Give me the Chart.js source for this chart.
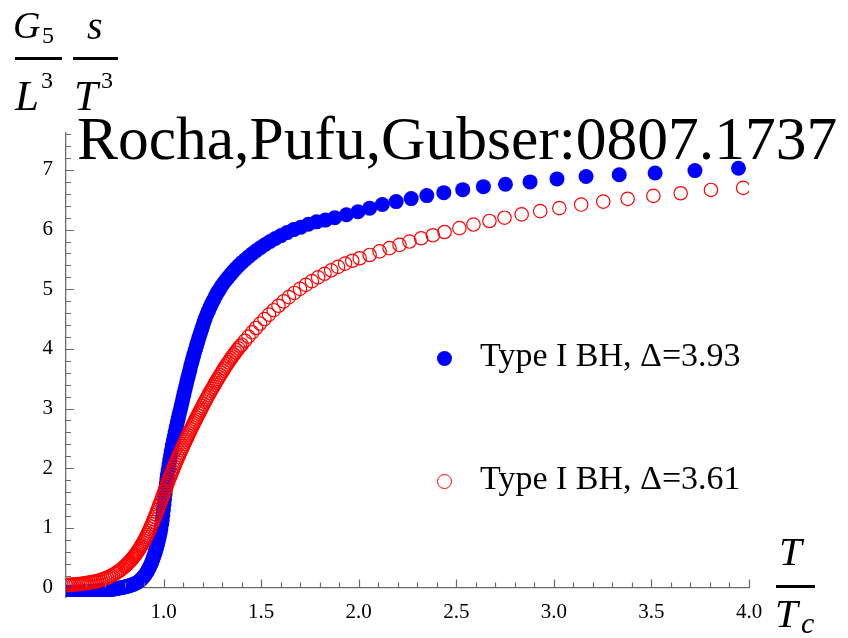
<!DOCTYPE html>
<html>
<head>
<meta charset="utf-8">
<script src="https://cdn.jsdelivr.net/npm/chart.js@4"></script>
<style>
  body { margin: 0; background: #fff; }
  #wrap { position: relative; width: 848px; height: 638px; overflow: hidden; font-family: "Liberation Serif", "Times New Roman", serif; }
  #wrap canvas { position: absolute; left: 0; top: 0; }
  .txt { position: absolute; line-height: 1; white-space: nowrap; color: #000; }
  .it { font-style: italic; }
  .bar { position: absolute; height: 3px; background: #000; }
  .dot { position: absolute; width: 15px; height: 15px; border-radius: 50%; box-sizing: border-box; }
</style>
</head>
<body>
<div id="wrap">
  <canvas id="grafico" width="848" height="638"></canvas>

  <!-- rótulo do eixo y: (G5 / L^3) (s / T^3) -->
  <div class="txt it" style="left:13px; top:6px; font-size:38px;">G</div>
  <div class="txt" style="left:42px; top:23px; font-size:24px;">5</div>
  <div class="bar" style="left:15px; top:57px; width:47px;"></div>
  <div class="txt it" style="left:15px; top:74px; font-size:43px;">L</div>
  <div class="txt" style="left:41px; top:68px; font-size:24px;">3</div>

  <div class="txt it" style="left:87px; top:6px; font-size:40px;">s</div>
  <div class="bar" style="left:73px; top:57px; width:45px;"></div>
  <div class="txt it" style="left:74px; top:74px; font-size:43px;">T</div>
  <div class="txt" style="left:101px; top:68px; font-size:24px;">3</div>

  <!-- título -->
  <div class="txt" style="left:77px; top:108px; font-size:61.5px;">Rocha,Pufu,Gubser:0807.1737</div>

  <!-- legenda -->
  <div class="dot" style="left:437px; top:351px; background:#0000ff;"></div>
  <div class="txt" style="left:480px; top:338px; font-size:34px;">Type I BH, Δ=3.93</div>
  <div class="dot" style="left:437px; top:474px; border:1.2px solid #ff0000;"></div>
  <div class="txt" style="left:480px; top:461px; font-size:34px;">Type I BH, Δ=3.61</div>

  <!-- rótulo do eixo x: T / Tc -->
  <div class="txt it" style="left:779px; top:531px; font-size:41px;">T</div>
  <div class="bar" style="left:776px; top:585px; width:39px;"></div>
  <div class="txt it" style="left:775px; top:593px; font-size:41px;">T</div>
  <div class="txt it" style="left:801px; top:608px; font-size:30px;">c</div>
</div>

<script>
// T/Tc e s/T^3 (em unidades G5/L^3) para cada família de buracos negros
const blueT = [0.50, 0.51, 0.52, 0.53, 0.54, 0.55, 0.56, 0.57, 0.58, 0.59, 0.60, 0.61, 0.62, 0.63, 0.64, 0.65,
  0.66, 0.67, 0.68, 0.69, 0.70, 0.71, 0.72, 0.73, 0.74, 0.75, 0.76, 0.77, 0.78, 0.79, 0.80, 0.81, 0.82,
  0.83, 0.84, 0.85, 0.86, 0.87, 0.88, 0.885, 0.89, 0.895, 0.90, 0.905, 0.91, 0.915, 0.92, 0.925, 0.93,
  0.935, 0.94, 0.945, 0.95, 0.954, 0.958, 0.962, 0.966, 0.97, 0.974, 0.978, 0.982, 0.986, 0.99, 0.993,
  0.996, 0.999, 1.002, 1.005, 1.008, 1.011, 1.014, 1.017, 1.02, 1.024, 1.028, 1.032, 1.036, 1.04, 1.045,
  1.05, 1.055, 1.06, 1.065, 1.07, 1.075, 1.08, 1.085, 1.09, 1.095, 1.10, 1.105, 1.11, 1.115, 1.12, 1.125,
  1.13, 1.135, 1.14, 1.145, 1.15, 1.155, 1.16, 1.165, 1.17, 1.175, 1.18, 1.185, 1.19, 1.195, 1.20, 1.207,
  1.214, 1.222, 1.23, 1.238, 1.247, 1.256, 1.265, 1.275, 1.285, 1.296, 1.307, 1.319, 1.331, 1.344, 1.357,
  1.371, 1.386, 1.402, 1.419, 1.437, 1.456, 1.476, 1.498, 1.521, 1.546, 1.573, 1.602, 1.633, 1.667, 1.703,
  1.742, 1.784, 1.829, 1.877, 1.937, 1.996, 2.056, 2.121, 2.192, 2.269, 2.349, 2.436, 2.533, 2.639, 2.752,
  2.878, 3.016, 3.165, 3.335, 3.519, 3.723, 3.946];
const blueS = [-0.08, -0.08, -0.08, -0.08, -0.08, -0.08, -0.078, -0.077, -0.075, -0.073, -0.071, -0.07, -0.068, -0.066, -0.064, -0.062,
  -0.06, -0.057, -0.054, -0.051, -0.048, -0.044, -0.04, -0.035, -0.03, -0.025, -0.019, -0.013, -0.006, 0.0, 0.008, 0.016, 0.025,
  0.035, 0.047, 0.06, 0.076, 0.095, 0.12, 0.135, 0.15, 0.17, 0.19, 0.21, 0.235, 0.26, 0.29, 0.32, 0.355,
  0.39, 0.43, 0.475, 0.52, 0.56, 0.60, 0.645, 0.69, 0.74, 0.79, 0.85, 0.91, 0.98, 1.06, 1.13,
  1.21, 1.30, 1.39, 1.48, 1.57, 1.66, 1.74, 1.82, 1.90, 1.98, 2.06, 2.14, 2.22, 2.30, 2.38,
  2.46, 2.54, 2.62, 2.69, 2.76, 2.83, 2.90, 2.97, 3.04, 3.11, 3.18, 3.25, 3.32, 3.39, 3.46, 3.52,
  3.59, 3.65, 3.72, 3.78, 3.84, 3.90, 3.96, 4.01, 4.07, 4.12, 4.18, 4.23, 4.28, 4.33, 4.38, 4.45,
  4.51, 4.58, 4.64, 4.70, 4.76, 4.82, 4.88, 4.94, 4.99, 5.05, 5.10, 5.15, 5.20, 5.25, 5.30,
  5.35, 5.40, 5.45, 5.50, 5.55, 5.60, 5.65, 5.70, 5.75, 5.80, 5.85, 5.90, 5.95, 6.00, 6.04,
  6.09, 6.13, 6.16, 6.20, 6.25, 6.30, 6.36, 6.42, 6.47, 6.52, 6.57, 6.62, 6.67, 6.72, 6.76,
  6.80, 6.85, 6.89, 6.92, 6.95, 6.99, 7.03];

const redT = [0.50, 0.51, 0.52, 0.53, 0.54, 0.55, 0.56, 0.57, 0.58, 0.59, 0.60, 0.61, 0.62, 0.63, 0.64, 0.65,
  0.66, 0.67, 0.68, 0.69, 0.70, 0.71, 0.72, 0.73, 0.74, 0.75, 0.76, 0.77, 0.78, 0.79, 0.80, 0.805, 0.81,
  0.815, 0.82, 0.825, 0.83, 0.835, 0.84, 0.845, 0.85, 0.855, 0.86, 0.865, 0.87, 0.875, 0.88, 0.885, 0.89,
  0.895, 0.90, 0.905, 0.91, 0.915, 0.92, 0.925, 0.93, 0.935, 0.94, 0.945, 0.95, 0.955, 0.96, 0.965, 0.97,
  0.975, 0.98, 0.985, 0.99, 0.995, 1.00, 1.005, 1.01, 1.015, 1.02, 1.025, 1.03, 1.035, 1.04, 1.045, 1.05,
  1.055, 1.06, 1.065, 1.07, 1.075, 1.08, 1.085, 1.09, 1.095, 1.10, 1.105, 1.11, 1.115, 1.12, 1.125, 1.13,
  1.135, 1.14, 1.145, 1.15, 1.155, 1.16, 1.165, 1.17, 1.175, 1.18, 1.185, 1.19, 1.195, 1.20, 1.206, 1.212,
  1.218, 1.224, 1.23, 1.236, 1.242, 1.248, 1.254, 1.26, 1.266, 1.272, 1.278, 1.284, 1.29, 1.297, 1.304,
  1.311, 1.318, 1.325, 1.332, 1.339, 1.346, 1.353, 1.36, 1.368, 1.376, 1.384, 1.392, 1.40, 1.417, 1.435,
  1.454, 1.474, 1.495, 1.517, 1.54, 1.564, 1.589, 1.615, 1.642, 1.67, 1.699, 1.729, 1.76, 1.792, 1.825,
  1.859, 1.894, 1.93, 1.967, 2.005, 2.056, 2.107, 2.158, 2.209, 2.26, 2.32, 2.38, 2.44, 2.516, 2.588,
  2.67, 2.747, 2.835, 2.93, 3.028, 3.14, 3.253, 3.378, 3.51, 3.65, 3.805, 3.97];
const redS = [0.040, 0.042, 0.045, 0.047, 0.050, 0.053, 0.056, 0.059, 0.063, 0.067, 0.071, 0.076, 0.081, 0.087, 0.093, 0.10,
  0.108, 0.117, 0.127, 0.138, 0.15, 0.163, 0.177, 0.193, 0.21, 0.23, 0.25, 0.272, 0.296, 0.322, 0.35, 0.365, 0.38,
  0.396, 0.412, 0.429, 0.447, 0.466, 0.485, 0.505, 0.526, 0.548, 0.57, 0.593, 0.617, 0.642, 0.668, 0.695, 0.723,
  0.752, 0.782, 0.813, 0.845, 0.878, 0.912, 0.947, 0.983, 1.02, 1.058, 1.097, 1.137, 1.178, 1.22, 1.262, 1.305,
  1.348, 1.392, 1.436, 1.48, 1.524, 1.568, 1.612, 1.656, 1.70, 1.743, 1.786, 1.828, 1.87, 1.911, 1.952, 1.992,
  2.032, 2.071, 2.11, 2.148, 2.186, 2.224, 2.261, 2.298, 2.334, 2.37, 2.406, 2.442, 2.477, 2.512, 2.547, 2.582,
  2.616, 2.65, 2.684, 2.718, 2.751, 2.784, 2.817, 2.85, 2.882, 2.914, 2.946, 2.978, 3.01, 3.041, 3.078, 3.115,
  3.152, 3.188, 3.224, 3.26, 3.295, 3.33, 3.364, 3.398, 3.432, 3.465, 3.498, 3.53, 3.562, 3.599, 3.635,
  3.671, 3.706, 3.741, 3.775, 3.808, 3.841, 3.873, 3.905, 3.94, 3.975, 4.009, 4.042, 4.07, 4.137, 4.207,
  4.278, 4.351, 4.425, 4.50, 4.575, 4.649, 4.723, 4.796, 4.868, 4.938, 5.006, 5.073, 5.137, 5.199, 5.259,
  5.318, 5.375, 5.43, 5.478, 5.52, 5.575, 5.635, 5.69, 5.745, 5.80, 5.855, 5.905, 5.96, 6.025, 6.085,
  6.145, 6.20, 6.255, 6.31, 6.36, 6.42, 6.47, 6.515, 6.565, 6.61, 6.665, 6.70];

// marcas com rótulo nos eixos
const xTicks = [1.0, 1.5, 2.0, 2.5, 3.0, 3.5, 4.0];
const yTicks = [0, 1, 2, 3, 4, 5, 6, 7];

const corEixo = '#6b6b6b';
const fonteTicks = { family: '"Liberation Serif", "Times New Roman", serif', size: 21 };

function pontos(xs, ys) {
  return xs.map((x, i) => ({ x: x, y: ys[i] }));
}

// tracinhos para dentro do gráfico, no estilo do Mathematica (maiores nos rótulos)
const marcasInternas = {
  id: 'marcasInternas',
  afterDraw(chart) {
    const { ctx, chartArea, scales: { x, y } } = chart;
    const y0 = y.getPixelForValue(0);
    ctx.save();
    ctx.strokeStyle = corEixo;
    ctx.lineWidth = 1.2;
    ctx.beginPath();
    for (let i = 6; i <= 40; i++) {
      const px = Math.round(x.getPixelForValue(i / 10)) + 0.5;
      const len = i % 5 === 0 ? 8 : 5;
      ctx.moveTo(px, y0);
      ctx.lineTo(px, y0 - len);
    }
    for (let i = 1; i * 0.2 <= y.max; i++) {
      const py = Math.round(y.getPixelForValue(i * 0.2)) + 0.5;
      const len = i % 5 === 0 ? 8 : 5;
      ctx.moveTo(chartArea.left, py);
      ctx.lineTo(chartArea.left + len, py);
    }
    ctx.stroke();
    ctx.restore();
  }
};

new Chart(document.getElementById('grafico').getContext('2d'), {
  type: 'scatter',
  data: {
    datasets: [
      {
        label: 'Type I BH, Δ=3.93',
        data: pontos(blueT, blueS),
        order: 1,
        clip: 0,
        pointRadius: 7.5,
        pointHoverRadius: 7.5,
        pointBorderWidth: 0,
        pointBackgroundColor: '#0000ff',
        borderColor: '#0000ff'
      },
      {
        label: 'Type I BH, Δ=3.61',
        data: pontos(redT, redS),
        order: 0,
        clip: 0,
        pointRadius: 6.7,
        pointHoverRadius: 6.7,
        pointBorderWidth: 1.2,
        pointBackgroundColor: 'rgba(255,255,255,0)',
        pointBorderColor: '#ff0000',
        borderColor: '#ff0000'
      }
    ]
  },
  options: {
    responsive: false,
    animation: false,
    events: [],
    layout: { padding: { top: 133, right: 99, bottom: 41, left: 0 } },
    plugins: {
      legend: { display: false },
      tooltip: { enabled: false }
    },
    scales: {
      x: {
        type: 'linear',
        min: 0.5,
        max: 4.0,
        position: { y: 0 },
        z: 1,
        border: { color: corEixo, width: 1.3 },
        grid: { drawOnChartArea: false, drawTicks: false },
        afterBuildTicks: s => { s.ticks = xTicks.map(v => ({ value: v })); },
        ticks: {
          autoSkip: false,
          maxRotation: 0,
          padding: 12,
          color: '#000',
          font: fonteTicks,
          callback: v => v.toFixed(1)
        }
      },
      y: {
        type: 'linear',
        min: -0.16,
        max: 7.62,
        position: 'left',
        z: 1,
        afterFit: s => { s.width = 66; },
        border: { color: corEixo, width: 1.3 },
        grid: { drawOnChartArea: false, drawTicks: false },
        afterBuildTicks: s => { s.ticks = yTicks.map(v => ({ value: v })); },
        ticks: {
          autoSkip: false,
          padding: 13,
          color: '#000',
          font: fonteTicks,
          callback: v => String(v)
        }
      }
    }
  },
  plugins: [marcasInternas]
});
</script>
</body>
</html>
